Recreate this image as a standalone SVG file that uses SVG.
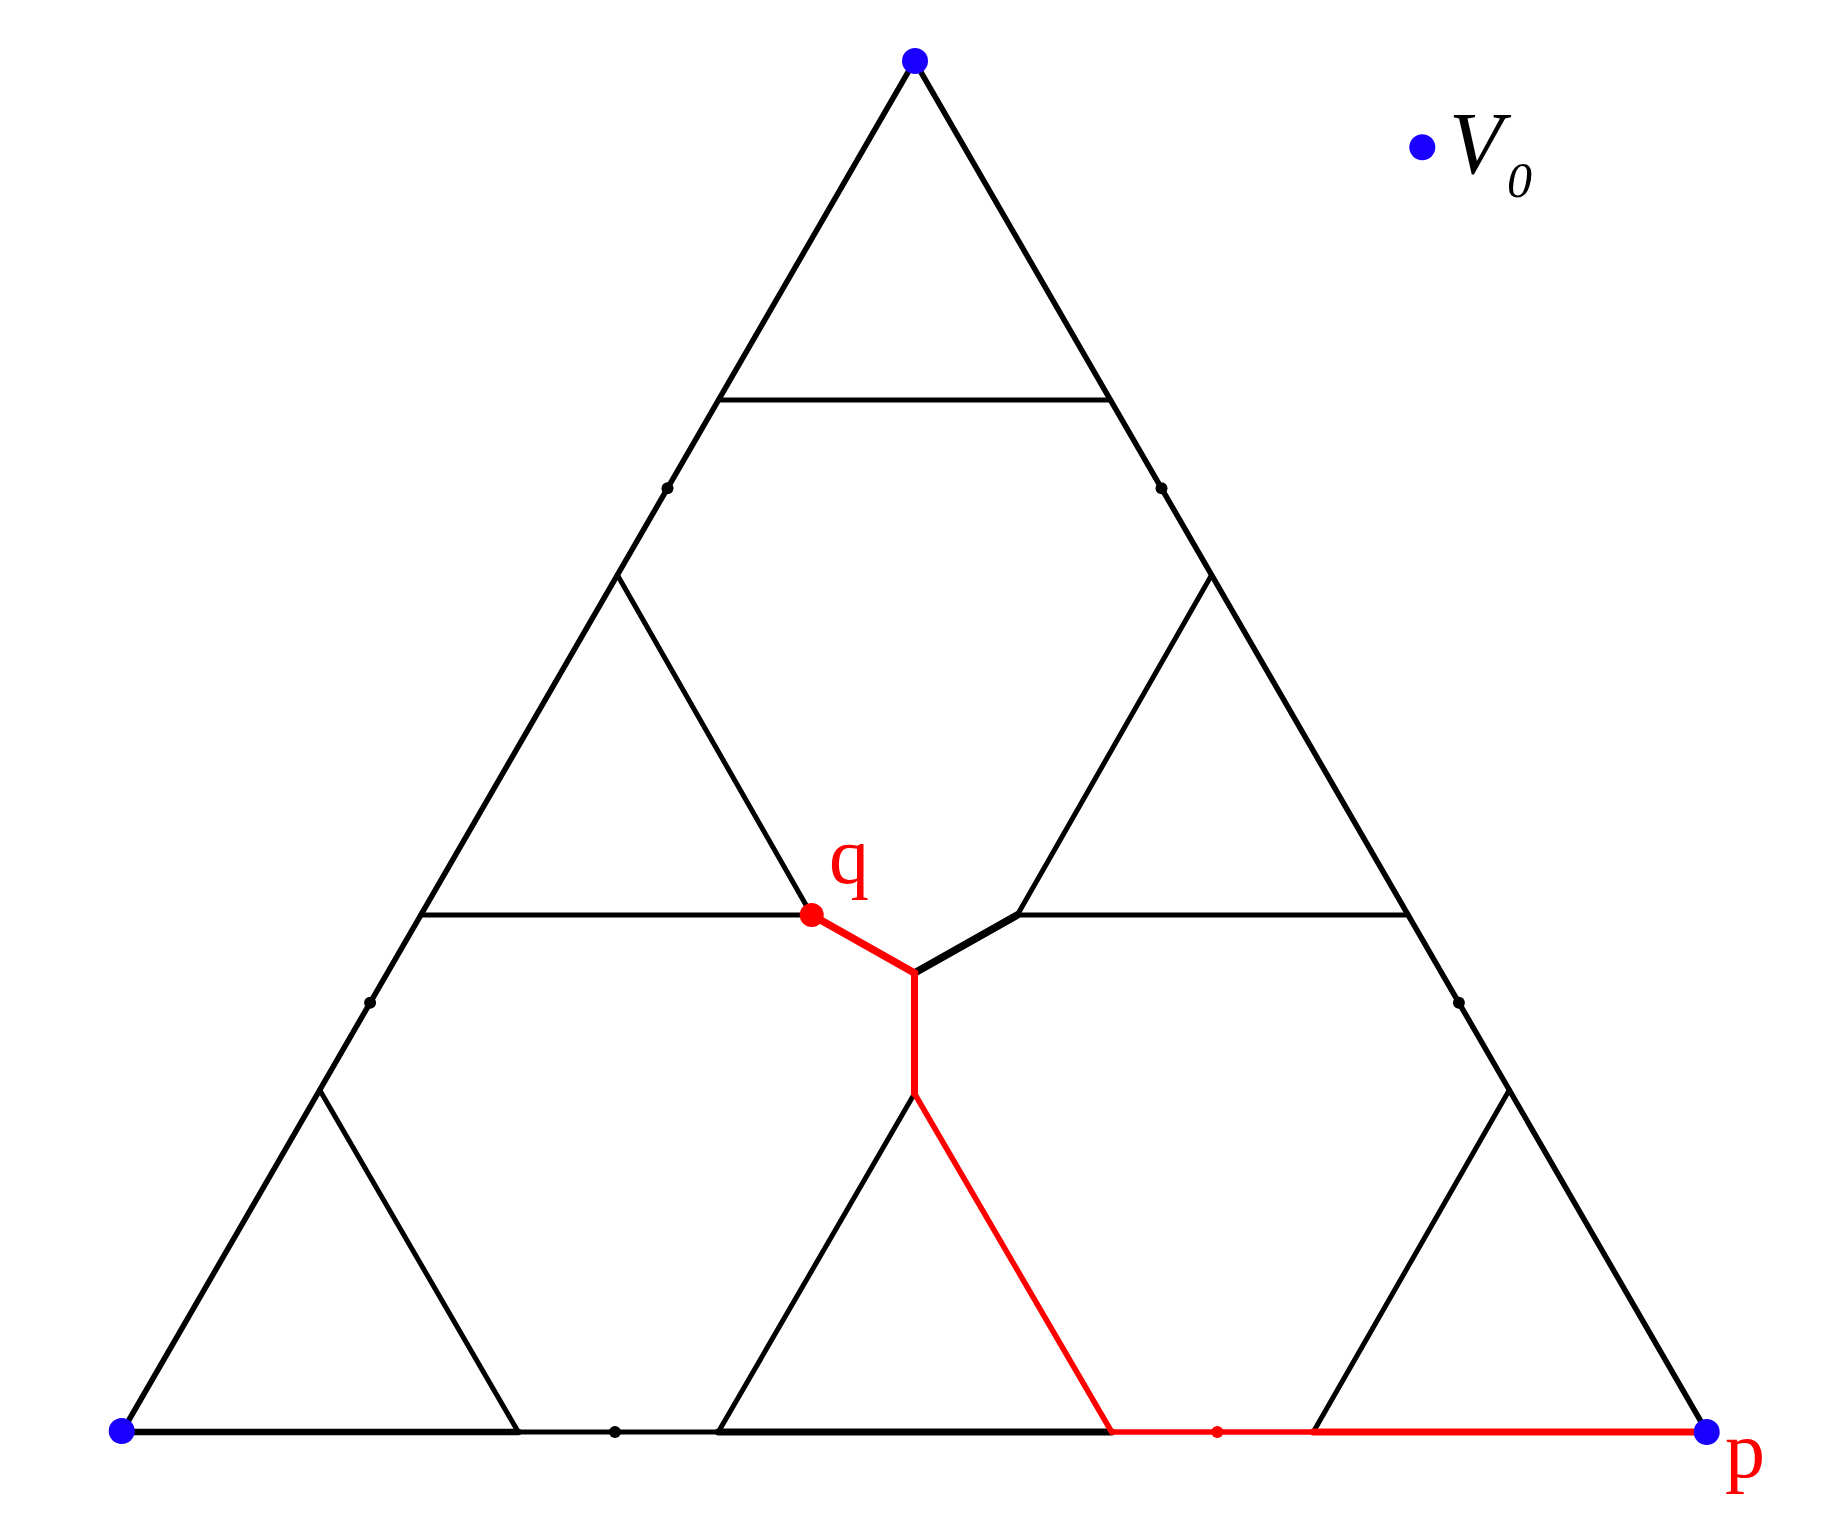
<svg xmlns="http://www.w3.org/2000/svg" width="1831" height="1535" viewBox="0 0 1831 1535">
<style>
.k{stroke:#000;fill:none;stroke-linecap:round;stroke-linejoin:round}
.r{stroke:#ff0000;fill:none;stroke-linecap:round;stroke-linejoin:round}
.bd{fill:#1a00ff}
.kd{fill:#000}
.rd{fill:#ff0000}
.lbl{font-family:"Liberation Serif","Times New Roman",serif}
</style>
<rect width="1831" height="1535" fill="#fff"/>
<g id="connectors">
<line class="k" x1="914.5" y1="61" x2="122" y2="1432" stroke-width="5.5"/>
<line class="k" x1="914.5" y1="61" x2="1707" y2="1432" stroke-width="5.5"/>
<line class="k" x1="122" y1="1432" x2="518.3" y2="1432" stroke-width="6.5"/>
<line class="k" x1="518.3" y1="1432" x2="718.3" y2="1432" stroke-width="5.2"/>
<line class="k" x1="718.3" y1="1432" x2="1111.7" y2="1432" stroke-width="6.8"/>
<line class="k" x1="718.5" y1="400" x2="1110.5" y2="400" stroke-width="5"/>
<line class="k" x1="617.4" y1="575" x2="811.7" y2="915" stroke-width="5"/>
<line class="k" x1="1211.6" y1="575" x2="1017.3" y2="915" stroke-width="5"/>
<line class="k" x1="420.9" y1="915" x2="811.7" y2="915" stroke-width="5"/>
<line class="k" x1="1017.3" y1="915" x2="1408.1" y2="915" stroke-width="5"/>
<line class="k" x1="1017.3" y1="915" x2="914.5" y2="973" stroke-width="7.5"/>
<line class="k" x1="914.5" y1="1093.5" x2="718.3" y2="1432" stroke-width="5"/>
<line class="k" x1="319.7" y1="1090" x2="518.3" y2="1432" stroke-width="5"/>
<line class="k" x1="1509.3" y1="1090" x2="1313.3" y2="1432" stroke-width="5"/>
<line class="r" x1="811.7" y1="915" x2="914.5" y2="973" stroke-width="7.5"/>
<line class="r" x1="914.5" y1="973" x2="914.5" y2="1093.5" stroke-width="7"/>
<line class="r" x1="914.5" y1="1093.5" x2="1111.7" y2="1432" stroke-width="5.5"/>
<line class="r" x1="1111.7" y1="1432" x2="1313.3" y2="1432" stroke-width="5.5"/>
<line class="r" x1="1313.3" y1="1432" x2="1707" y2="1432" stroke-width="7"/>
</g>
<g id="dots">
<circle id="d1" class="kd" cx="667.5" cy="488.3" r="6"/>
<circle id="d1r" class="kd" cx="1161.5" cy="488.3" r="6"/>
<circle id="d2" class="kd" cx="370.1" cy="1002.7" r="6"/>
<circle id="d2r" class="kd" cx="1458.9" cy="1002.7" r="6"/>
<circle id="d3" class="kd" cx="615" cy="1432" r="6"/>
<circle id="d4" class="rd" cx="1217.3" cy="1432" r="6"/>
</g>
<g id="node-q">
<circle class="rd" cx="811.7" cy="915" r="12"/>
<text class="lbl" x="829" y="883" font-size="80" fill="#ff0000">q</text>
</g>
<g id="node-top"><circle class="bd" cx="915" cy="61" r="13"/></g>
<g id="node-left"><circle class="bd" cx="121.7" cy="1431" r="13"/></g>
<g id="node-p">
<circle class="bd" cx="1706.7" cy="1432" r="13"/>
<text class="lbl" x="1725" y="1477" font-size="80" fill="#ff0000">p</text>
</g>
<g id="legend">
<circle class="bd" cx="1422.3" cy="147.3" r="13"/>
<text class="lbl" x="1449" y="173" font-size="88" font-style="italic" fill="#000">V</text>
<text class="lbl" x="1507" y="197" font-size="50" font-style="italic" fill="#000">0</text>
</g>
</svg>
